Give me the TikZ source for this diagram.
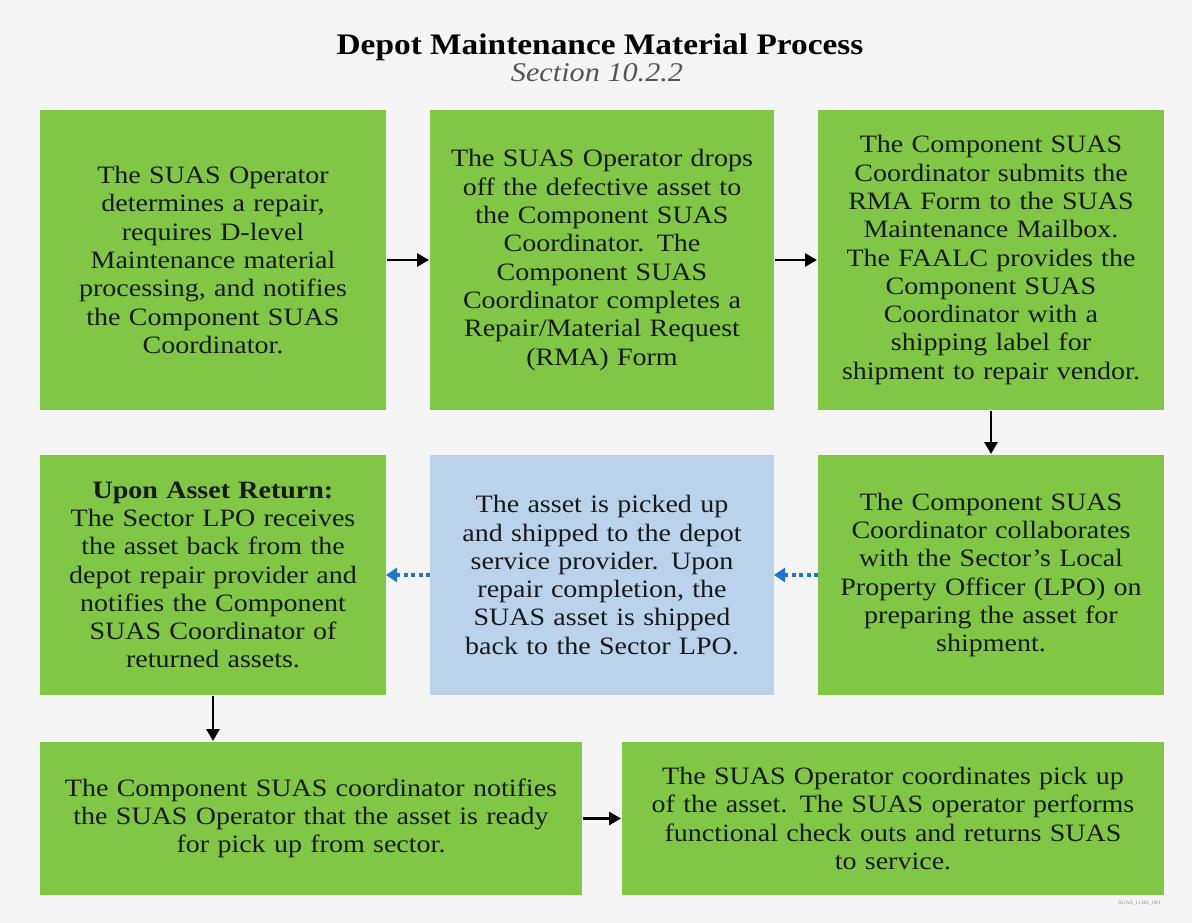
\documentclass[tikz,border=0pt]{standalone}
\usepackage{fontspec}
\setmainfont{Liberation Serif}[FakeStretch=1.12]
\usepackage{tikz}
\usetikzlibrary{arrows.meta,positioning}
\definecolor{pagebg}{RGB}{245,245,245}
\definecolor{stepgreen}{RGB}{127,199,68}
\definecolor{stepblue}{RGB}{186,211,235}
\definecolor{dotblue}{RGB}{28,118,205}
\definecolor{subgray}{RGB}{85,85,85}
\tikzset{
  procbox/.style={rectangle, fill=stepgreen, align=center, inner sep=0pt,
                  outer sep=0pt, text=black!90,
                  font=\fontsize{25}{28.3}\selectfont},
  procboxblue/.style={procbox, fill=stepblue},
  arr/.style={-{Triangle[length=12pt,width=13pt]}, line width=2.8pt, black,
              shorten <=1pt, shorten >=1pt},
  arrdot/.style={-{Triangle[length=11pt,width=14pt]}, line width=3.6pt,
                 color=dotblue, dash pattern=on 4pt off 3.5pt},
}
\begin{document}
\begin{tikzpicture}[x=1pt,y=-1pt]
  \fill[pagebg] (0,0) rectangle (1192,923);
  \useasboundingbox (0,0) rectangle (1192,923);

  % title
  \node[anchor=base, font=\bfseries\fontsize{29.8}{32}\selectfont] (title) at (600,55)
       {Depot Maintenance Material Process};
  \node[anchor=base, font=\itshape\fontsize{27}{30}\selectfont, text=subgray] (sect) at (597,82)
       {Section 10.2.2};

  % first row
  \node[procbox, minimum width=346pt, minimum height=300pt, text width=336pt] (b1) at (213,260)
       {The SUAS Operator\\determines a repair,\\requires D-level\\Maintenance material\\processing, and notifies\\the Component SUAS\\Coordinator.};
  \node[procbox, minimum width=344pt, minimum height=300pt, text width=334pt] (b2) at (602,260)
       {The SUAS Operator drops\\off the defective asset to\\the Component SUAS\\Coordinator. The\\Component SUAS\\Coordinator completes a\\Repair/Material Request\\(RMA) Form};
  \node[procbox, minimum width=346pt, minimum height=300pt, text width=336pt] (b3) at (991,260)
       {The Component SUAS\\Coordinator submits the\\RMA Form to the SUAS\\Maintenance Mailbox.\\The FAALC provides the\\Component SUAS\\Coordinator with a\\shipping label for\\shipment to repair vendor.};

  % second row
  \node[procbox, minimum width=346pt, minimum height=240pt, text width=336pt] (b4) at (213,575)
       {\textbf{Upon Asset Return:}\\The Sector LPO receives\\the asset back from the\\depot repair provider and\\notifies the Component\\SUAS Coordinator of\\returned assets.};
  \node[procboxblue, minimum width=344pt, minimum height=240pt, text width=334pt] (b5) at (602,575)
       {The asset is picked up\\and shipped to the depot\\service provider. Upon\\repair completion, the\\SUAS asset is shipped\\back to the Sector LPO.};
  \node[procbox, minimum width=346pt, minimum height=240pt, text width=336pt] (b6) at (991,575)
       {The Component SUAS\\Coordinator collaborates\\with the Sector’s Local\\Property Officer (LPO) on\\preparing the asset for\\shipment.};

  % third row
  \node[procbox, minimum width=542pt, minimum height=153pt, text width=530pt] (b7) at (311,818.5)
       {The Component SUAS coordinator notifies\\the SUAS Operator that the asset is ready\\for pick up from sector.};
  \node[procbox, minimum width=542pt, minimum height=153pt, text width=530pt] (b8) at (893,818.5)
       {The SUAS Operator coordinates pick up\\of the asset. The SUAS operator performs\\functional check outs and returns SUAS\\to service.};

  \node[anchor=base east, font=\fontsize{5}{6}\selectfont, text=black!45] (ref) at (1164,904) {SUAS\_11381\_003};

  % connectors
  \draw[arr] (b1) -- (b2);
  \draw[arr] (b2) -- (b3);
  \draw[arr] (b3) -- (b6);
  \draw[arrdot] (b6) -- (b5);
  \draw[arrdot] (b5) -- (b4);
  \draw[arr] (b4.south) -- (b4.south |- b7.north);
  \draw[arr] (b7) -- (b8);
\end{tikzpicture}
\end{document}
